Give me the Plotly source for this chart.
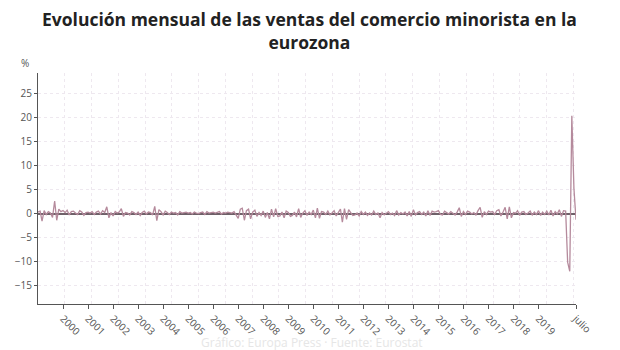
import plotly.graph_objects as go
import pandas as pd

# Monthly change (%) in euro-area retail sales, Jan 1999 - Jul 2020
v1999 = [0.3, 0.5, -1.6, 0.6, -0.2, 0.4, 0.1, -0.8, 2.6, -1.4, 0.9, 0.4]
v2000 = [0.6, 0.2, 0.7, -0.3, 0.4, 0.5, 0.1, -0.2, 0.6, 0.3, -0.4, 0.2]
v2001 = [0.3, 0.1, 0.4, -0.2, 0.3, 0.5, -0.1, 0.6, 0.2, 1.4, -0.9, 0.2]
v2002 = [-0.5, 0.4, 0.1, 0.3, 1.0, -0.6, 0.2, 0.1, -0.3, 0.4, 0.2, -0.2]
v2003 = [0.3, -0.4, 0.2, 0.5, -0.1, 0.3, 0.2, -0.3, 1.5, -1.5, 0.8, 0.4]
v2004 = [-0.3, 0.5, 0.2, -0.2, 0.3, 0.1, 0.2, -0.3, 0.4, 0.1, 0.2, 0.3]
v2005 = [0.1, 0.2, -0.1, 0.3, 0.1, 0.0, 0.2, 0.3, -0.2, 0.4, 0.1, 0.2]
v2006 = [0.3, 0.1, 0.2, 0.4, -0.1, 0.2, 0.1, 0.3, 0.2, 0.1, 0.4, -0.2]
v2007 = [-1.0, 0.9, 1.1, -1.4, 0.6, 0.9, -1.1, 0.3, 0.7, -0.6, 0.2, -0.4]
v2008 = [0.5, -0.8, 0.2, -1.1, 0.9, -0.7, 1.0, -0.6, -0.5, 0.3, -0.9, 0.5]
v2009 = [0.2, -0.6, -0.4, 0.3, -0.7, 1.0, -0.8, 0.1, 0.6, -0.4, 0.3, -0.2]
v2010 = [0.7, -0.9, 1.1, -1.0, 0.4, 0.3, -0.2, 0.5, -0.3, 0.1, 0.6, -0.5]
v2011 = [0.2, 0.9, -1.8, 1.0, -1.2, 0.8, 0.2, -0.4, -0.3, 0.1, -0.5, 0.4]
v2012 = [-0.2, 0.3, -0.4, 0.1, -0.3, 0.5, -0.2, 0.1, -0.9, 0.2, -0.3, 0.1]
v2013 = [0.4, -0.2, 0.1, -0.4, 0.6, -0.3, 0.2, -0.1, 0.3, -0.5, 0.4, -0.6]
v2014 = [0.8, -0.3, 0.2, 0.4, -0.2, 0.3, -0.5, 0.6, -0.4, 0.5, 0.3, 0.4]
v2015 = [0.6, -0.2, -0.3, 0.5, 0.2, -0.1, 0.4, 0.1, -0.3, 0.3, 1.2, -0.6]
v2016 = [0.4, -0.2, 0.5, 0.3, -0.1, 0.2, -0.3, 0.6, 1.3, -0.8, 0.4, -0.2]
v2017 = [0.5, 0.3, 0.4, -0.2, 0.6, 0.8, -0.5, 0.3, 1.3, -1.1, 1.4, -0.9]
v2018 = [0.2, 0.1, 0.6, -0.4, 0.3, 0.4, -0.2, 0.1, 0.5, -0.3, 0.3, -0.2]
v2019 = [0.6, -0.4, 0.3, -0.2, 0.5, -0.3, 0.7, -0.5, 0.4, -0.1, 0.8, -0.6]
v2020 = [0.6, 0.5, -10.1, -12.0, 20.3, 5.2, -1.3]

values = (v1999 + v2000 + v2001 + v2002 + v2003 + v2004 + v2005 + v2006 + v2007
          + v2008 + v2009 + v2010 + v2011 + v2012 + v2013 + v2014 + v2015
          + v2016 + v2017 + v2018 + v2019 + v2020)
dates = pd.date_range("1999-01-01", periods=len(values), freq="MS")

tick_dates = [f"{y}-01-01" for y in range(2000, 2020)] + ["2020-07-01"]
tick_labels = [str(y) for y in range(2000, 2020)] + ["julio"]
y_ticks = [-15, -10, -5, 0, 5, 10, 15, 20, 25]

title_text = "Evolución mensual de las ventas del comercio minorista en la<br>eurozona"
source_text = "Gráfico: Europa Press · Fuente: Eurostat"

fig = go.Figure()
# invisible helper trace for the independent vertical grid axis
fig.add_trace(go.Scatter(x=[0, 20.1], y=[0, 0], xaxis="x2", mode="lines",
                         line=dict(width=0), opacity=0, hoverinfo="skip",
                         showlegend=False))
fig.add_trace(go.Scatter(x=dates, y=values, mode="lines",
                         line=dict(color="#b58a9c", width=1.3),
                         showlegend=False, hovertemplate="%{x|%b %Y}: %{y}%<extra></extra>"))

fig.update_layout(
    width=620, height=350,
    margin=dict(l=38, r=44, t=73, b=43),
    paper_bgcolor="white", plot_bgcolor="white",
    font=dict(family="Open Sans", size=10, color="#555"),
    xaxis=dict(type="date", range=[dates[0], dates[-1]],
               tickvals=tick_dates, ticktext=tick_labels, tickangle=45,
               showgrid=False, zeroline=False,
               showline=True, linecolor="#555", linewidth=1,
               ticks="outside", ticklen=4, tickcolor="#555",
               tickfont=dict(size=10, color="#555")),
    xaxis2=dict(overlaying="x", range=[0, 20.1], dtick=1, showgrid=True,
                gridcolor="#eee8ef", griddash="dot", gridwidth=1,
                showticklabels=False, zeroline=False, showline=False, ticks=""),
    yaxis=dict(range=[-18.8, 29.2], tickvals=y_ticks,
               showgrid=True, gridcolor="#eee8ef", griddash="dot", gridwidth=1,
               zeroline=True, zerolinecolor="#6e6068", zerolinewidth=1.5,
               showline=True, linecolor="#555", linewidth=1,
               ticks="outside", ticklen=3, tickcolor="#555",
               tickfont=dict(size=10, color="#555")),
    annotations=[
        dict(text=title_text, xref="paper", yref="paper", x=0.505, y=1.295,
             xanchor="center", yanchor="top", showarrow=False,
             font=dict(family="Open Sans", size=17.5, color="#222", weight="bold")),
        dict(text="%", xref="paper", yref="paper", x=-0.025, y=1.02,
             xanchor="center", yanchor="bottom", yshift=-4, showarrow=False,
             font=dict(size=10, color="#555")),
        dict(text=source_text, xref="paper", yref="paper", x=0.51, y=-0.095,
             xanchor="center", yanchor="top", yshift=-6, showarrow=False,
             font=dict(size=12, color="#e6e6e6")),
    ],
)

fig.write_html("out.html")
